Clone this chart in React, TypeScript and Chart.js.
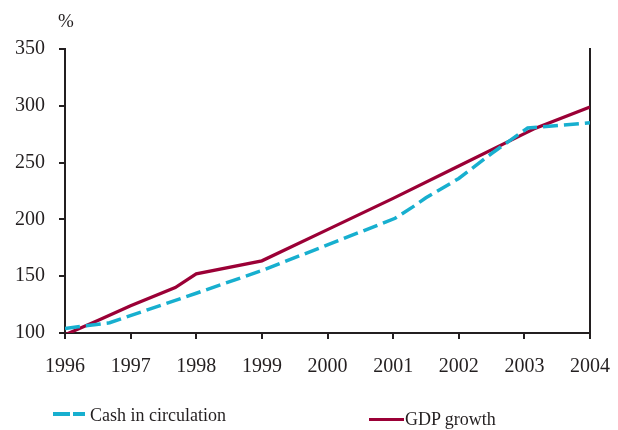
import React, { useEffect, useRef } from "react";
import { Chart, registerables } from "chart.js";

Chart.register(...registerables);

const yearTicks = [1996, 1997, 1998, 1999, 2000, 2001, 2002, 2003, 2004];
const valueTicks = [100, 150, 200, 250, 300, 350];

const cashX = [1996, 1996.68, 1998, 1999, 2000, 2001.03, 2001.3, 2001.5, 2002, 2002.5, 2003.05, 2004];
const cashY = [104, 109, 135, 155, 177.5, 201, 211, 219, 236, 258, 280.5, 285];

const gdpX = [1996, 1996.5, 1997, 1997.68, 1998, 1999, 2000, 2001, 2002, 2003, 2003.14, 2004];
const gdpY = [98.5, 111, 124, 140, 152, 163.5, 191, 218.5, 247, 275.5, 279.5, 299];

const RED = "#9b0036";
const BLUE = "#17afcf";
const AXIS = "#231f20";
const FONT = "'Liberation Serif', 'Times New Roman', serif";

export default function App() {
  const ref = useRef<HTMLCanvasElement | null>(null);

  useEffect(() => {
    if (!ref.current) return;
    const chart = new Chart(ref.current, {
      type: "line",
      data: {
        datasets: [
          {
            label: "Cash in circulation",
            data: cashX.map((x, i) => ({ x, y: cashY[i] })),
            borderColor: BLUE,
            borderWidth: 3.5,
            borderDash: [15, 6],
            pointRadius: 0,
            tension: 0,
          },
          {
            label: "GDP growth",
            data: gdpX.map((x, i) => ({ x, y: gdpY[i] })),
            borderColor: RED,
            borderWidth: 3.3,
            pointRadius: 0,
            tension: 0,
          },
        ],
      },
      options: {
        animation: false,
        responsive: false,
        maintainAspectRatio: false,
        layout: { padding: { left: 12, right: 28, top: 49, bottom: 40 } },
        plugins: { legend: { display: false }, tooltip: { enabled: false } },
        scales: {
          x: {
            type: "linear",
            min: 1996,
            max: 2004,
            afterBuildTicks: (axis: any) => {
              axis.ticks = yearTicks.map((v) => ({ value: v }));
            },
            afterFit: (axis: any) => {
              axis.height = 57;
              axis.paddingRight = 0;
              axis.paddingLeft = 0;
            },
            ticks: {
              callback: (v: any) => String(v),
              color: AXIS,
              font: { family: FONT, size: 20 },
              padding: 16,
              maxRotation: 0,
              autoSkip: false,
            },
            grid: { display: true, drawOnChartArea: false, drawTicks: true, tickLength: 6, color: AXIS, lineWidth: 2 },
            border: { display: true, color: AXIS, width: 2 },
          },
          y: {
            type: "linear",
            min: 100,
            max: 350,
            afterBuildTicks: (axis: any) => {
              axis.ticks = valueTicks.map((v) => ({ value: v }));
            },
            afterFit: (axis: any) => {
              axis.width = 53;
            },
            ticks: {
              color: AXIS,
              font: { family: FONT, size: 20 },
              padding: 14,
            },
            grid: { display: true, drawOnChartArea: false, drawTicks: true, tickLength: 6, color: AXIS, lineWidth: 2 },
            border: { display: true, color: AXIS, width: 2 },
          },
          y2: {
            type: "linear",
            position: "right",
            min: 100,
            max: 350,
            afterFit: (axis: any) => {
              axis.width = 0;
            },
            ticks: { display: false },
            grid: { display: false, drawTicks: false },
            border: { display: true, color: AXIS, width: 2 },
          },
        },
      },
    });
    return () => chart.destroy();
  }, []);

  const textStyle: React.CSSProperties = {
    position: "absolute",
    fontFamily: FONT,
    fontSize: 18,
    color: AXIS,
    lineHeight: "20px",
    whiteSpace: "nowrap",
  };

  return (
    <div style={{ position: "absolute", left: 0, top: 0, width: 618, height: 430, background: "#fff" }}>
      <canvas ref={ref} width={618} height={430} style={{ position: "absolute", left: 0, top: 0 }} />
      <div style={{ ...textStyle, fontSize: 19, left: 58, top: 11 }}>%</div>
      <div style={{ position: "absolute", left: 53, top: 412, width: 17, height: 4, background: BLUE }} />
      <div style={{ position: "absolute", left: 73, top: 412, width: 12, height: 4, background: BLUE }} />
      <div style={{ ...textStyle, left: 90, top: 405 }}>Cash in circulation</div>
      <div style={{ position: "absolute", left: 369, top: 418, width: 35, height: 3, background: RED }} />
      <div style={{ ...textStyle, left: 405, top: 409 }}>GDP growth</div>
    </div>
  );
}
